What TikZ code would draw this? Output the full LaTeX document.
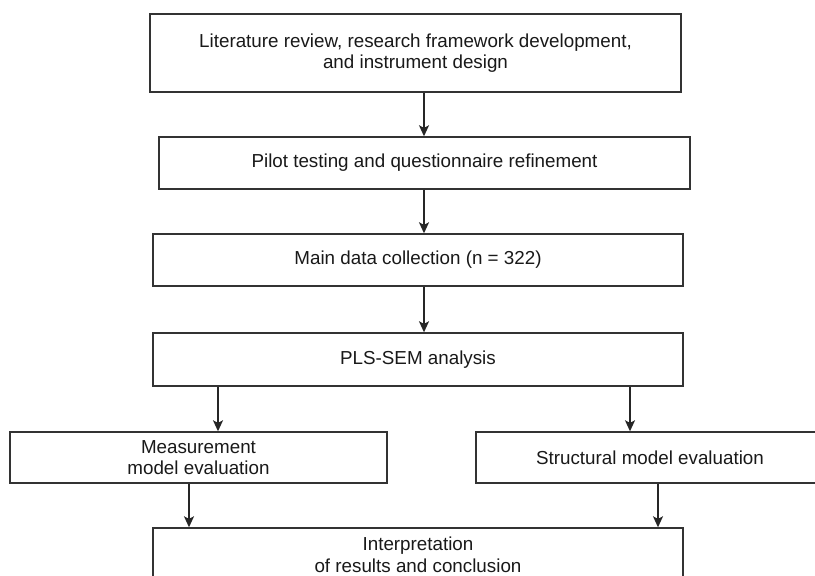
\documentclass[tikz,border=0pt]{standalone}
\usepackage{fontspec}
\setmainfont{Liberation Sans}
\usetikzlibrary{arrows.meta}

\tikzset{
	stepbox/.style={draw=black!80, line width=1.4pt, fill=white, inner sep=0pt,
		align=center, text=black!90, font=\fontsize{18.8}{21.5}\selectfont},
	arr/.style={draw=black!85, line width=1.4pt, -{Stealth[length=11pt,width=10pt,inset=2.5pt]}}
}

\begin{document}
\begin{tikzpicture}[x=1pt,y=-1pt]
	\useasboundingbox (0,0) rectangle (815,576);
	\clip (0,0) rectangle (815,576);
	
	%Steps down the middle
	\node[stepbox, minimum width=531pt, minimum height=78pt] (lit) at (415.5,53) {Literature review, research framework development,\\and instrument design};
	\node[stepbox, minimum width=531pt, minimum height=52pt] (pilot) at (424.5,163) {Pilot testing and questionnaire refinement};
	\node[stepbox, minimum width=530pt, minimum height=52pt] (main) at (418,260) {Main data collection (n = 322)};
	\node[stepbox, minimum width=530pt, minimum height=53pt] (pls) at (418,359.5) {PLS-SEM analysis};
	
	%Two evaluations
	\node[stepbox, minimum width=377pt, minimum height=51pt] (meas) at (198.5,457.5) {Measurement\\model evaluation};
	\node[stepbox, minimum width=370pt, minimum height=51pt] (struc) at (661,457.5) {\hspace*{-22pt}Structural model evaluation};
	
	%Last step
	\node[stepbox, minimum width=530pt, minimum height=54pt] (interp) at (418,555) {Interpretation\\of results and conclusion};
	
	\draw[arr] ([xshift=-0.5pt]lit.south -| pilot.north) -- ([xshift=-0.5pt]pilot.north);
	\draw[arr] ([xshift=-0.5pt]pilot.south) -- ([xshift=-0.5pt]pilot.south |- main.north);
	\draw[arr] ([xshift=6pt]main.south) -- ([xshift=6pt]pls.north);
	\draw[arr] ([xshift=19.5pt]meas.north |- pls.south) -- ([xshift=19.5pt]meas.north);
	\draw[arr] ([xshift=-31pt]struc.north |- pls.south) -- ([xshift=-31pt]struc.north);
	\draw[arr] ([xshift=-9.5pt]meas.south) -- ([xshift=-9.5pt]meas.south |- interp.north);
	\draw[arr] ([xshift=-3pt]struc.south) -- ([xshift=-3pt]struc.south |- interp.north);
\end{tikzpicture}
\end{document}
